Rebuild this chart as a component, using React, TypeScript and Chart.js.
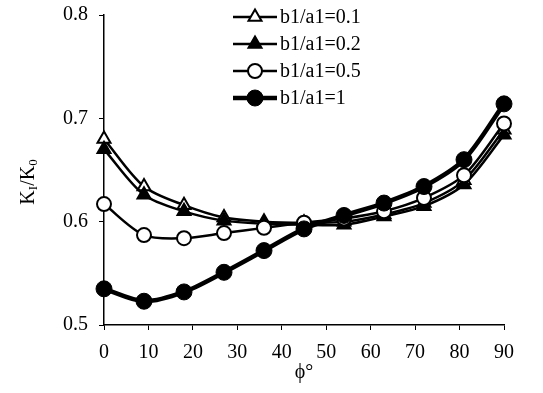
import React, { useEffect, useRef } from "react";
import { Chart, registerables } from "chart.js";

Chart.register(...registerables);

// ---- data ----
const phiDeg = [0, 9, 18, 27, 36, 45, 54, 63, 72, 81, 90];
const ratio01 = [0.68, 0.634, 0.616, 0.604, 0.6, 0.599, 0.6, 0.607, 0.618, 0.64, 0.689];
const ratio02 = [0.67, 0.626, 0.61, 0.601, 0.598, 0.597, 0.597, 0.605, 0.615, 0.636, 0.684];
const ratio05 = [0.617, 0.587, 0.584, 0.589, 0.594, 0.599, 0.603, 0.61, 0.623, 0.645, 0.695];
const ratio1 = [0.535, 0.523, 0.532, 0.551, 0.572, 0.593, 0.606, 0.618, 0.634, 0.66, 0.714];
const seriesLabels = ["b1/a1=0.1", "b1/a1=0.2", "b1/a1=0.5", "b1/a1=1"];
const xTickValues = [0, 10, 20, 30, 40, 50, 60, 70, 80, 90];
const yTickValues = [0.5, 0.6, 0.7, 0.8];
const xTitle = "ϕ°";

const FONT = "'Liberation Serif', 'Times New Roman', serif";

function drawMarker(ctx: CanvasRenderingContext2D, style: string, r: number, x: number, y: number) {
  ctx.beginPath();
  if (style === "triangle") {
    for (let k = 0; k < 3; k++) {
      const a = (k * 2 * Math.PI) / 3;
      const px = x + Math.sin(a) * r;
      const py = y - Math.cos(a) * r;
      if (k === 0) ctx.moveTo(px, py);
      else ctx.lineTo(px, py);
    }
    ctx.closePath();
  } else {
    ctx.arc(x, y, r, 0, Math.PI * 2);
    ctx.closePath();
  }
}

const legendPlugin = {
  id: "lineMarkerLegend",
  afterDraw(chart: any) {
    const ctx = chart.ctx as CanvasRenderingContext2D;
    const rowY = [17, 44, 71, 98];
    const x0 = 233;
    const x1 = 277;
    const cx = (x0 + x1) / 2;
    chart.data.datasets.forEach((ds: any, i: number) => {
      const y = rowY[i];
      ctx.save();
      ctx.strokeStyle = "#000";
      ctx.lineWidth = ds.borderWidth;
      ctx.beginPath();
      ctx.moveTo(x0, y);
      ctx.lineTo(x1, y);
      ctx.stroke();
      ctx.fillStyle = ds.pointBackgroundColor;
      ctx.lineWidth = ds.pointBorderWidth;
      drawMarker(ctx, ds.pointStyle, ds.pointRadius, cx, y);
      ctx.fill();
      ctx.stroke();
      ctx.fillStyle = "#000";
      ctx.font = `20px ${FONT}`;
      ctx.textBaseline = "middle";
      ctx.textAlign = "left";
      ctx.fillText(ds.label, x1 + 3, y + 1);
      ctx.restore();
    });
  },
};

const yTitlePlugin = {
  id: "yTitleSub",
  afterDraw(chart: any) {
    const ctx = chart.ctx as CanvasRenderingContext2D;
    const parts = [
      { t: "K", sub: false },
      { t: "I", sub: true },
      { t: "/K", sub: false },
      { t: "0", sub: true },
    ];
    ctx.save();
    const big = `20px ${FONT}`;
    const small = `13px ${FONT}`;
    let total = 0;
    const widths = parts.map((p) => {
      ctx.font = p.sub ? small : big;
      const w = ctx.measureText(p.t).width;
      total += w;
      return w;
    });
    ctx.translate(27, 182);
    ctx.rotate(-Math.PI / 2);
    ctx.fillStyle = "#000";
    ctx.textBaseline = "alphabetic";
    ctx.textAlign = "left";
    let x = -total / 2;
    parts.forEach((p, i) => {
      ctx.font = p.sub ? small : big;
      ctx.fillText(p.t, x, p.sub ? 10 : 7);
      x += widths[i];
    });
    ctx.restore();
  },
};

export default function App() {
  const ref = useRef<HTMLCanvasElement | null>(null);

  useEffect(() => {
    if (!ref.current) return;
    const common = {
      borderColor: "#000",
      pointBorderColor: "#000",
      fill: false,
      tension: 0.3,
      clip: false,
    };
    const chart = new Chart(ref.current, {
      type: "line",
      data: {
        datasets: [
          {
            ...common,
            label: seriesLabels[0],
            data: phiDeg.map((x, i) => ({ x, y: ratio01[i] })),
            borderWidth: 2.5,
            pointStyle: "triangle",
            pointRadius: 7.5,
            pointBorderWidth: 2,
            pointBackgroundColor: "#fff",
            order: 4,
          },
          {
            ...common,
            label: seriesLabels[1],
            data: phiDeg.map((x, i) => ({ x, y: ratio02[i] })),
            borderWidth: 2.5,
            pointStyle: "triangle",
            pointRadius: 7.5,
            pointBorderWidth: 2,
            pointBackgroundColor: "#000",
            order: 3,
          },
          {
            ...common,
            label: seriesLabels[2],
            data: phiDeg.map((x, i) => ({ x, y: ratio05[i] })),
            borderWidth: 2.5,
            pointStyle: "circle",
            pointRadius: 7,
            pointBorderWidth: 2,
            pointBackgroundColor: "#fff",
            order: 2,
          },
          {
            ...common,
            label: seriesLabels[3],
            data: phiDeg.map((x, i) => ({ x, y: ratio1[i] })),
            borderWidth: 4.5,
            pointStyle: "circle",
            pointRadius: 8,
            pointBorderWidth: 1,
            pointBackgroundColor: "#000",
            order: 1,
          },
        ] as any,
      },
      options: {
        responsive: false,
        animation: false,
        layout: { padding: { left: 0, right: 39, top: 15, bottom: 0 } },
        plugins: {
          legend: { display: false },
          tooltip: { enabled: false },
        },
        scales: {
          x: {
            type: "linear",
            min: xTickValues[0],
            max: xTickValues[xTickValues.length - 1],
            afterBuildTicks: (s: any) => {
              s.ticks = xTickValues.map((v) => ({ value: v }));
            },
            afterFit: (s: any) => {
              s.height = 68;
              s.paddingLeft = 0;
              s.paddingRight = 0;
            },
            grid: {
              display: true,
              drawOnChartArea: false,
              drawTicks: true,
              tickLength: 5,
              color: "#000",
              lineWidth: 1,
            },
            border: { display: true, color: "#000", width: 1.5 },
            ticks: {
              color: "#000",
              font: { family: FONT, size: 20 },
              padding: 11,
              maxRotation: 0,
              callback: (v: any) => String(v),
            },
            title: {
              display: true,
              text: xTitle,
              color: "#000",
              font: { family: FONT, size: 20 },
              padding: { top: 0, bottom: 8 },
            },
          },
          y: {
            type: "linear",
            min: yTickValues[0],
            max: yTickValues[yTickValues.length - 1],
            afterBuildTicks: (s: any) => {
              s.ticks = yTickValues.map((v) => ({ value: v }));
            },
            afterFit: (s: any) => {
              s.width = 104;
              s.paddingTop = 0;
              s.paddingBottom = 0;
            },
            grid: {
              display: true,
              drawOnChartArea: false,
              drawTicks: true,
              tickLength: 5,
              color: "#000",
              lineWidth: 1,
            },
            border: { display: true, color: "#000", width: 1.5 },
            ticks: {
              color: "#000",
              font: { family: FONT, size: 20 },
              padding: 11,
              callback: (v: any) => Number(v).toFixed(1),
            },
          },
        },
      } as any,
      plugins: [legendPlugin, yTitlePlugin],
    });
    return () => chart.destroy();
  }, []);

  return (
    <div style={{ position: "absolute", left: 0, top: 0, width: 543, height: 393, background: "#fff" }}>
      <canvas ref={ref} width={543} height={393} />
    </div>
  );
}
